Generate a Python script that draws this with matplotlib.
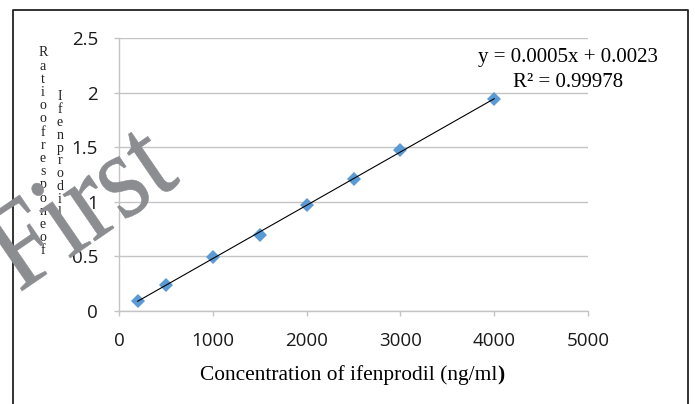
import matplotlib

matplotlib.use("Agg")
import matplotlib.pyplot as plt  # noqa: E402
import numpy as np  # noqa: E402
from matplotlib.font_manager import FontProperties  # noqa: E402
from matplotlib.lines import Line2D  # noqa: E402
from matplotlib.patches import PathPatch  # noqa: E402
from matplotlib.textpath import TextPath  # noqa: E402
from matplotlib.transforms import Affine2D  # noqa: E402

# calibration data
conc = [200, 500, 1000, 1500, 2000, 2500, 3000, 4000]
ratio = [0.09, 0.24, 0.49, 0.70, 0.97, 1.21, 1.47, 1.94]
x_ticks = [0, 1000, 2000, 3000, 4000, 5000]
y_ticks = [0, 0.5, 1, 1.5, 2, 2.5]
eq_text = "y = 0.0005x + 0.0023"
r2_text = "R\u00b2 = 0.99978"
ylab_1 = "Ratio of respone of"
ylab_2 = "Ifenprodil"
watermark = "First"

W, H = 695, 404
SERIF = "Liberation Serif"
SANS = "Open Sans"
GRID = "#c4c4c4"
BLUE = "#5b9bd5"
MARK = "#8c8d91"


def px(x, y):
    return x / W, 1 - y / H


fig = plt.figure(figsize=(W / 100, H / 100), dpi=100)
ax = fig.add_axes([119 / W, 1 - 311 / H, (588 - 119) / W, (311 - 38) / H])

# points + linear trendline
ax.plot(conc, ratio, linestyle="none", marker="D", markersize=7.5,
        color=BLUE, markeredgewidth=0, zorder=3)
k, b = np.polyfit(conc, ratio, 1)
xs = np.array([min(conc), max(conc)])
ax.plot(xs, k * xs + b, color="black", linewidth=0.8, zorder=4)

ax.set_xlim(0, 5000)
ax.set_ylim(0, 2.5)
ax.set_xticks(x_ticks)
ax.set_yticks(y_ticks)
ax.set_xticklabels([str(v) for v in x_ticks])
ax.set_yticklabels([f"{v:g}" for v in y_ticks])
ax.grid(axis="y", color=GRID, linewidth=1)
ax.set_axisbelow(True)
for s in ("top", "right"):
    ax.spines[s].set_visible(False)
for s in ("left", "bottom"):
    ax.spines[s].set_color(GRID)
    ax.spines[s].set_linewidth(1)
ax.tick_params(direction="out", length=3.6, width=1, color=GRID,
               labelsize=13.5, labelcolor="#1a1a1a", pad=11.5)
for lbl in ax.get_xticklabels() + ax.get_yticklabels():
    lbl.set_fontfamily(SANS)

# trendline equation
fig.text(*px(568, 62), eq_text, family=SERIF, fontsize=15,
         ha="center", va="baseline")
fig.text(*px(568, 87), r2_text, family=SERIF, fontsize=15,
         ha="center", va="baseline")

# x axis title, closing bracket in bold
fig.text(*px(497, 380), "Concentration of ifenprodil (ng/ml", family=SERIF,
         fontsize=15.4, ha="right", va="baseline")
fig.text(*px(497, 380), ")", family=SERIF, fontsize=15.4, weight="bold",
         ha="left", va="baseline")

# stacked y axis title
for text, x0, y0, step in [(ylab_1, 43, 53, 13.2), (ylab_2, 60, 97, 12.8)]:
    letters = [c for c in text if c != " "]
    for i, c in enumerate(letters):
        fig.text(*px(x0, y0 + i * step), c, family=SERIF, fontsize=10,
                 ha="center", va="center", color="#222222")

# frame around the chart (open at the bottom)
frame = dict(color="#222222", linewidth=1.3, transform=fig.transFigure)
fig.add_artist(Line2D([13 / W, 13 / W, 688 / W, 688 / W],
                      [0, 1 - 10 / H, 1 - 10 / H, 0], **frame))

# watermark: slightly tall, rotated serif word drawn as a path in pixels
tp = TextPath((0, 0), watermark, size=100, prop=FontProperties(family=SERIF))
wm_tr = (Affine2D().scale(107.5 / 100, 123 / 100).rotate_deg(34.4)
         .translate(19, H - 293))
fig.add_artist(PathPatch(tp, transform=wm_tr, facecolor=MARK,
                         edgecolor=MARK, linewidth=0.4, zorder=10))

fig.savefig("out.png", dpi=100, facecolor="white")
